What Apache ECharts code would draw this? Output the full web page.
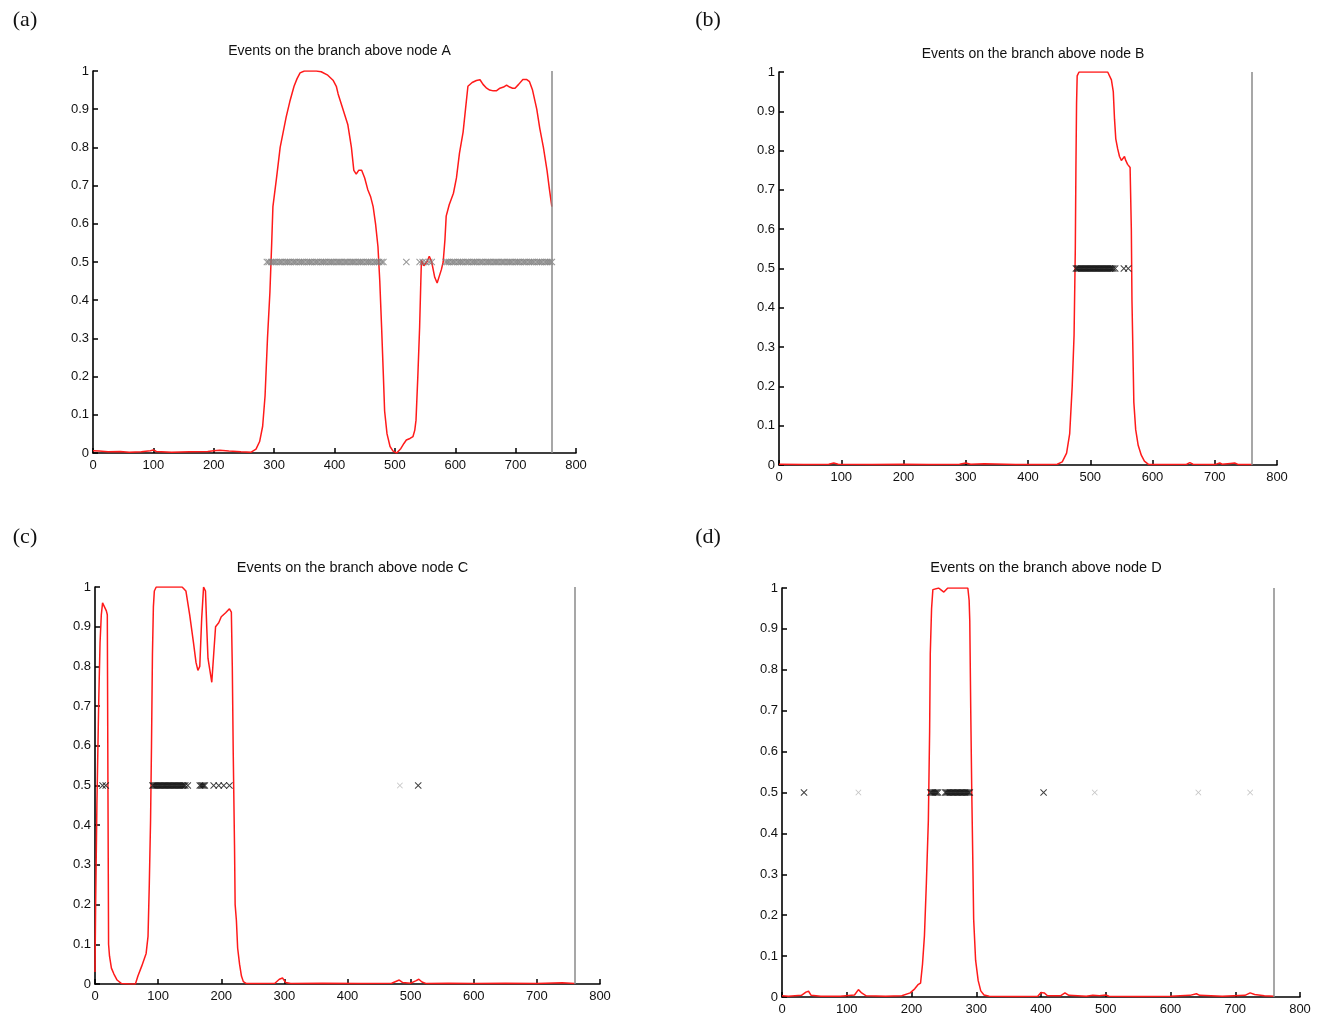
<!DOCTYPE html>
<html>
<head>
<meta charset="utf-8">
<script src="https://cdn.jsdelivr.net/npm/echarts@6/dist/echarts.min.js"></script>
<style>html,body{margin:0;padding:0;background:#fff;}#c{width:1329px;height:1019px;}</style>
</head>
<body>
<div id="c"></div>
<script>
// ---------- data ----------
const panelLabels = ['(a)', '(b)', '(c)', '(d)'];
const titles = ['Events on the branch above node A', 'Events on the branch above node B',
                'Events on the branch above node C', 'Events on the branch above node D'];
const treeHeight = 760;

const curveA = [[0,0.006],[10,0.005],[25,0.003],[45,0.004],[60,0.002],[80,0.003],[95,0.006],[100,0.008],[105,0.004],[130,0.002],[160,0.003],[190,0.004],[200,0.006],[210,0.007],[225,0.005],[245,0.003],[262,0.002],[270,0.01],[276,0.03],[281,0.07],[285,0.15],[289,0.3],[293,0.42],[296,0.55],[298,0.645],[304,0.72],[310,0.8],[315,0.84],[320,0.88],[326,0.92],[333,0.96],[338,0.98],[343,0.995],[350,1.0],[360,1.0],[370,1.0],[378,0.998],[388,0.99],[398,0.975],[403,0.96],[406,0.94],[414,0.9],[422,0.86],[428,0.8],[432,0.74],[436,0.73],[440,0.74],[445,0.74],[450,0.72],[455,0.69],[460,0.67],[464,0.645],[468,0.6],[472,0.54],[475,0.45],[478,0.33],[481,0.2],[483,0.11],[487,0.05],[492,0.017],[497,0.005],[503,0.0],[510,0.012],[515,0.025],[519,0.034],[525,0.038],[530,0.043],[533,0.06],[535,0.086],[538,0.2],[541,0.33],[543,0.45],[544,0.505],[548,0.49],[553,0.5],[557,0.515],[561,0.5],[566,0.46],[570,0.445],[573,0.45],[577,0.48],[580,0.5],[583,0.56],[585,0.62],[590,0.65],[597,0.68],[602,0.72],[607,0.785],[613,0.84],[617,0.9],[621,0.96],[628,0.97],[635,0.975],[641,0.977],[646,0.965],[652,0.955],[657,0.95],[663,0.948],[668,0.948],[674,0.955],[680,0.958],[685,0.963],[690,0.958],[695,0.955],[699,0.955],[705,0.965],[712,0.978],[718,0.978],[723,0.972],[728,0.95],[735,0.9],[740,0.85],[746,0.8],[752,0.74],[756,0.69],[760,0.645]];

const curveB = [[0,0.002],[40,0.001],[80,0.002],[88,0.005],[95,0.002],[150,0.001],[200,0.002],[240,0.001],[290,0.002],[300,0.005],[308,0.002],[330,0.003],[380,0.001],[430,0.001],[447,0.002],[455,0.008],[462,0.03],[467,0.08],[471,0.2],[474,0.33],[476,0.55],[477,0.76],[478,0.92],[479,0.99],[482,1.0],[500,1.0],[520,1.0],[528,1.0],[531,0.995],[534,0.98],[537,0.95],[539,0.88],[541,0.83],[544,0.805],[547,0.785],[550,0.775],[553,0.778],[555,0.785],[557,0.775],[560,0.765],[564,0.757],[566,0.6],[567,0.42],[569,0.25],[570,0.16],[573,0.09],[577,0.05],[582,0.025],[587,0.01],[594,0.001],[620,0.001],[655,0.002],[660,0.006],[665,0.002],[700,0.001],[708,0.005],[712,0.002],[725,0.004],[732,0.005],[738,0.001],[760,0.001]];

const curveC = [[0,0.03],[1,0.2],[3,0.45],[6,0.72],[8,0.86],[10,0.93],[12,0.96],[15,0.955],[18,0.94],[19.5,0.93],[20.5,0.5],[21.5,0.1],[23,0.07],[26,0.04],[30,0.025],[35,0.01],[42,0.001],[55,0.0],[64,0.0],[68,0.02],[74,0.045],[81,0.077],[84,0.12],[86,0.25],[88,0.41],[89.5,0.6],[91,0.83],[92.5,0.95],[94,0.99],[97,1.0],[110,1.0],[125,1.0],[138,1.0],[141,0.998],[144,0.99],[150,0.93],[156,0.86],[160,0.81],[163,0.79],[166,0.8],[169,0.92],[172,1.0],[175,0.99],[177,0.9],[179,0.82],[182,0.79],[185,0.76],[188,0.83],[191,0.9],[196,0.91],[200,0.925],[207,0.935],[213,0.945],[216,0.937],[217.5,0.8],[219,0.58],[221,0.35],[222,0.2],[224,0.16],[226,0.09],[229,0.05],[232,0.02],[235,0.006],[240,0.001],[260,0.001],[285,0.002],[292,0.012],[297,0.015],[302,0.004],[310,0.001],[360,0.002],[420,0.001],[470,0.002],[482,0.01],[487,0.004],[500,0.002],[508,0.008],[513,0.012],[518,0.005],[525,0.001],[560,0.002],[600,0.001],[650,0.002],[700,0.001],[740,0.003],[760,0.001]];

const curveD = [[0,0.003],[10,0.002],[30,0.004],[37,0.012],[41,0.014],[45,0.004],[60,0.002],[90,0.002],[112,0.005],[118,0.018],[123,0.01],[130,0.003],[160,0.002],[185,0.003],[198,0.01],[205,0.02],[210,0.03],[214,0.034],[217,0.08],[220,0.15],[223,0.28],[226,0.43],[228,0.65],[229,0.84],[231,0.95],[233,0.996],[236,1.0],[242,1.0],[246,0.995],[250,0.99],[253,0.992],[256,1.0],[260,1.0],[270,1.0],[280,1.0],[287,1.0],[289,0.97],[290,0.92],[291.5,0.7],[293,0.51],[295,0.3],[296,0.19],[299,0.09],[303,0.04],[307,0.015],[312,0.005],[320,0.002],[360,0.001],[395,0.002],[400,0.011],[405,0.01],[410,0.003],[430,0.003],[437,0.01],[443,0.004],[470,0.002],[480,0.004],[490,0.003],[500,0.005],[505,0.002],[550,0.001],[600,0.002],[630,0.004],[640,0.008],[645,0.004],[680,0.002],[715,0.004],[723,0.01],[730,0.006],[745,0.003],[760,0.002]];

// event positions (all events drawn at y = 0.5)
const eventLevel = 0.5;
const eventsA = [288,291,295,298,301,304,308,311,314,318,321,324,327,331,334,337,341,344,347,350,354,357,360,363,367,370,373,377,380,383,386,390,393,396,399,403,406,409,412,416,419,422,426,429,432,435,439,442,445,448,452,455,458,461,465,468,471,474,478,481,519,541,546,551,557,561,584,587,590,594,597,600,604,607,610,613,617,620,623,627,630,633,636,640,643,646,650,653,656,659,663,666,669,672,676,679,682,686,689,692,695,699,702,705,708,712,715,718,722,725,728,731,735,738,741,744,748,751,754,757,760];
const eventsBDark = [477,479,481,483,485,487,489,491,493,495,497,499,501,503,505,507,509,511,513,515,517,519,521,523,525,527,529,531,533,535,537,540,554,561];
const eventsCDark = [12,17,91,93,95,97,99,101,103,105,107,109,111,113,115,117,119,121,123,125,127,129,131,133,135,137,139,141,143,147,166,168,170,172,174,188,196,204,213,512];
const eventsCLight = [483];
const eventsDDark = [34,229,231,233,235,237,239,241,252,254,256,258,260,262,264,266,268,270,272,274,276,278,280,282,284,286,288,290,404];
const eventsDLight = [118,483,643,723];

// ---------- layout ----------
const grids = [
  {left: 93, top: 71, width: 483, height: 382},
  {left: 779, top: 72, width: 498, height: 393},
  {left: 95, top: 587, width: 505, height: 397},
  {left: 782, top: 588, width: 518, height: 409}
];
const titleTops = [39, 42, 555, 555];
const titleSizes = [14, 14, 14.5, 14.5];
const labelPos = [[25, 20], [708, 20], [25, 537], [708, 537]];

const curves = [curveA, curveB, curveC, curveD];
const darkEvents = [[], eventsBDark, eventsCDark, eventsDDark];
const midEvents = [eventsA, [], [], []];
const lightEvents = [[], [], eventsCLight, eventsDLight];

const X_PATH = 'path://M1,0L5,4L9,0L10,1L6,5L10,9L9,10L5,6L1,10L0,9L4,5L0,1Z';
const toPts = arr => arr.map(v => [v, eventLevel]);

const option = {
  animation: false,
  backgroundColor: '#fff',
  title: [],
  grid: [],
  xAxis: [],
  yAxis: [],
  series: [],
  graphic: []
};

const axisFont = {fontFamily: 'Liberation Sans, Arial, sans-serif', fontSize: 13, color: '#111'};

for (let i = 0; i < 4; i++) {
  const g = grids[i];
  option.grid.push(Object.assign({containLabel: false}, g));
  option.title.push({
    text: titles[i],
    left: g.left + g.width / 2,
    top: titleTops[i],
    textAlign: 'center',
    textStyle: {fontFamily: 'Liberation Sans, Arial, sans-serif', fontSize: titleSizes[i], fontWeight: 'normal', color: '#111'}
  });
  option.graphic.push({
    type: 'text', x: labelPos[i][0], y: labelPos[i][1],
    style: {text: panelLabels[i], font: '22px "Liberation Serif", "DejaVu Serif", serif', fill: '#111',
            textAlign: 'center', textVerticalAlign: 'middle', align: 'center', verticalAlign: 'middle'}
  });
  option.xAxis.push({
    gridIndex: i, type: 'value', min: 0, max: 800, interval: 100,
    axisLine: {show: true, onZero: false, lineStyle: {color: '#000', width: 1.6}},
    axisTick: {show: true, inside: true, length: 5, lineStyle: {color: '#000', width: 1.5}},
    axisLabel: Object.assign({margin: 6}, axisFont),
    splitLine: {show: false}
  });
  option.yAxis.push({
    gridIndex: i, type: 'value', min: 0, max: 1, interval: 0.1,
    axisLine: {show: true, onZero: false, lineStyle: {color: '#000', width: 1.6}},
    axisTick: {show: true, inside: true, length: 5, lineStyle: {color: '#000', width: 1.5}},
    axisLabel: Object.assign({margin: 4}, axisFont),
    splitLine: {show: false}
  });
  option.series.push({
    type: 'line', xAxisIndex: i, yAxisIndex: i, data: curves[i],
    showSymbol: false, symbol: 'none', smooth: false, z: 3,
    lineStyle: {color: '#ff1a1a', width: 1.5},
    markLine: {
      silent: true, symbol: ['none', 'none'], label: {show: false},
      lineStyle: {color: '#8a8a8a', width: 1.5, type: 'solid'},
      data: [{xAxis: treeHeight}]
    }
  });
  if (midEvents[i].length) option.series.push({
    type: 'scatter', xAxisIndex: i, yAxisIndex: i, data: toPts(midEvents[i]),
    symbol: X_PATH, symbolSize: 7, z: 4, itemStyle: {color: '#7d7d7d'}
  });
  if (lightEvents[i].length) option.series.push({
    type: 'scatter', xAxisIndex: i, yAxisIndex: i, data: toPts(lightEvents[i]),
    symbol: X_PATH, symbolSize: 6, z: 4, itemStyle: {color: '#b5b5b5'}
  });
  if (darkEvents[i].length) option.series.push({
    type: 'scatter', xAxisIndex: i, yAxisIndex: i, data: toPts(darkEvents[i]),
    symbol: X_PATH, symbolSize: 7, z: 5, itemStyle: {color: '#111'}
  });
}

const chart = echarts.init(document.getElementById('c'), null, {renderer: 'canvas'});
chart.setOption(option);
</script>
</body>
</html>
